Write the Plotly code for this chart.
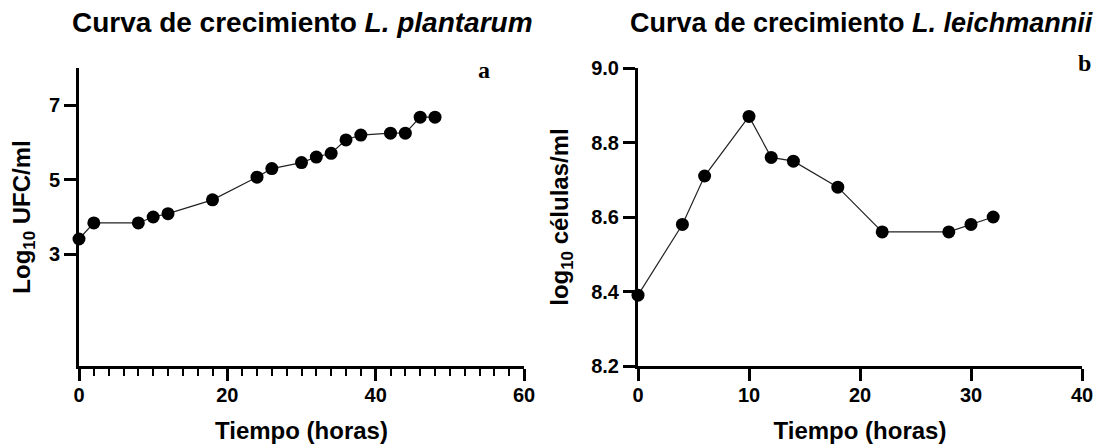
import plotly.graph_objects as go

# Panel a: L. plantarum
time_a = [0, 2, 8, 10, 12, 18, 24, 26, 30, 32, 34, 36, 38, 42, 44, 46, 48]
log_ufc = [3.41, 3.84, 3.84, 4.00, 4.09, 4.46, 5.07, 5.30, 5.46, 5.61, 5.71, 6.07, 6.20, 6.25, 6.25, 6.68, 6.68]

# Panel b: L. leichmannii
time_b = [0, 4, 6, 10, 12, 14, 18, 22, 28, 30, 32]
log_cel = [8.39, 8.58, 8.71, 8.87, 8.76, 8.75, 8.68, 8.56, 8.56, 8.58, 8.60]

title_a = "Curva de crecimiento <i>L. plantarum</i>"
title_b = "Curva de crecimiento <i>L. leichmannii</i>"
xlabel = "Tiempo (horas)"
ylabel_a = "Log<sub>10</sub> UFC/ml"
ylabel_b = "log<sub>10</sub> células/ml"
xticks_a = [0, 20, 40, 60]
xticks_b = [0, 10, 20, 30, 40]
yticks_a = [3, 5, 7]
yticks_b = [8.2, 8.4, 8.6, 8.8, 9.0]

FONT = "Liberation Sans, Arial, sans-serif"
SERIF = "Liberation Serif, Times New Roman, serif"
tickfont = dict(family=FONT, size=20, color="black", weight="bold")
titlefont = dict(family=FONT, size=24, color="black", weight="bold")

fig = go.Figure()
marker = dict(size=13, color="black")
line = dict(color="#222222", width=1.2)
fig.add_trace(go.Scatter(x=time_a, y=log_ufc, mode="lines+markers", marker=marker,
                         line=line, xaxis="x", yaxis="y", cliponaxis=False, showlegend=False))
fig.add_trace(go.Scatter(x=time_b, y=log_cel, mode="lines+markers", marker=marker,
                         line=line, xaxis="x2", yaxis="y2", cliponaxis=False, showlegend=False))

# page body adds an 8 px offset; work in window pixels minus that offset
OFF = 8
W, H = 1105 - OFF, 446 - OFF
L = 79 - OFF
R = 1105 - 1082
T = 68 - OFF
B = 446 - 366
PW = W - L - R
PH = H - T - B


def px(xw):
    return (xw - OFF - L) / PW


def py(yw):
    return 1 - (yw - OFF - T) / PH


axis_common = dict(showline=True, linewidth=3, linecolor="black", ticks="outside",
                   tickwidth=3, tickcolor="black", ticklen=12, showgrid=False,
                   zeroline=False, tickfont=tickfont, automargin=False)

fig.update_layout(
    width=W, height=H,
    margin=dict(l=L, r=R, t=T, b=B),
    paper_bgcolor="white", plot_bgcolor="white",
    xaxis=dict(domain=[0, px(524)], range=[0, 60], tickvals=xticks_a, anchor="y",
               ticklabelstandoff=-3,
               minor=dict(dtick=2, ticklen=7, tickwidth=2, ticks="outside", tickcolor="black"),
               title=dict(text=xlabel, font=titlefont, standoff=18), **axis_common),
    yaxis=dict(domain=[0, 1], range=[0, 8], tickvals=yticks_a, anchor="x",
               title=dict(text=ylabel_a, font=titlefont, standoff=14), **axis_common),
    xaxis2=dict(domain=[px(638), 1], range=[0, 40], tickvals=xticks_b, anchor="y2",
                ticklabelstandoff=-3,
                title=dict(text=xlabel, font=titlefont, standoff=18), **axis_common),
    yaxis2=dict(domain=[0, 1], range=[8.2, 9.0], tickvals=yticks_b, tickformat=".1f",
                anchor="x2",
                title=dict(text=ylabel_b, font=titlefont, standoff=16), **axis_common),
    annotations=[
        dict(text=title_a, x=px(302), y=py(23), xref="paper",
             yref="paper", showarrow=False, xanchor="center", yanchor="middle",
             font=dict(family=FONT, size=28, color="black", weight="bold")),
        dict(text=title_b, x=px(861), y=py(23), xref="paper",
             yref="paper", showarrow=False, xanchor="center", yanchor="middle",
             font=dict(family=FONT, size=27, color="black", weight="bold")),
        dict(text="a", x=px(484), y=py(70), xref="paper",
             yref="paper", showarrow=False, xanchor="center", yanchor="middle",
             font=dict(family=SERIF, size=24, color="black", weight="bold")),
        dict(text="b", x=px(1084), y=py(63), xref="paper",
             yref="paper", showarrow=False, xanchor="center", yanchor="middle",
             font=dict(family=SERIF, size=24, color="black", weight="bold")),
    ],
)

fig.write_html("out.html")
